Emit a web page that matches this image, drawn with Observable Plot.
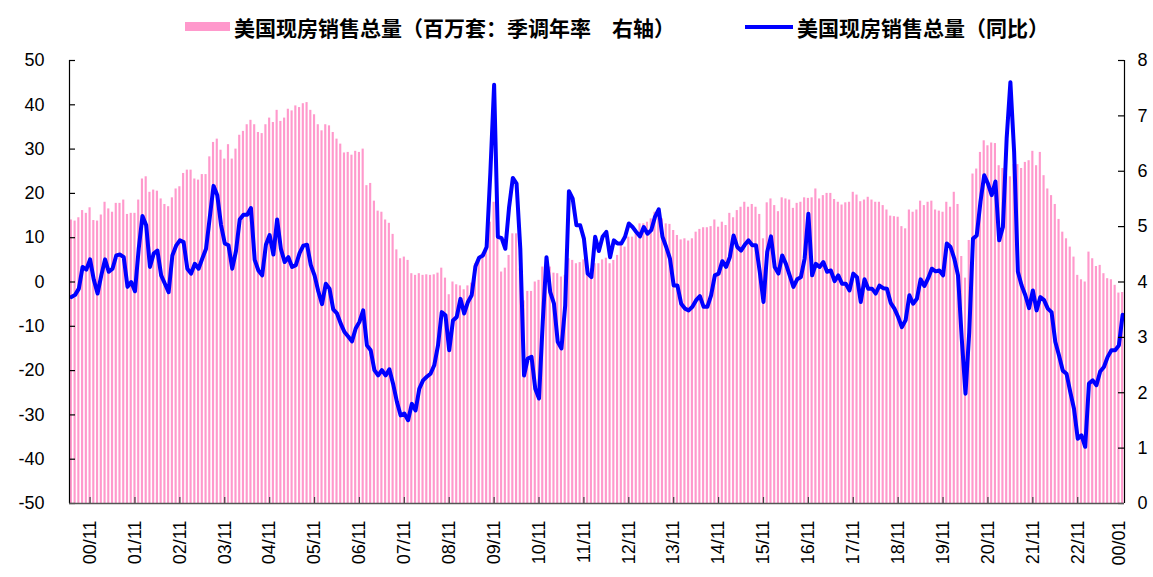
<!DOCTYPE html>
<html>
<head>
<meta charset="utf-8">
<script src="https://cdn.jsdelivr.net/npm/d3@7"></script>
<script src="https://cdn.jsdelivr.net/npm/@observablehq/plot@0.6"></script>
<style>
  body { margin: 0; background: #fff; }
  #wrap { position: relative; width: 1153px; height: 577px; overflow: hidden; background: #fff; }
  #chart { position: absolute; left: 0; top: 0; }
  .leg { position: absolute; top: 13px; line-height: 28px; white-space: pre;
         font-family: "Noto Sans CJK SC", sans-serif; font-size: 21px; font-weight: bold; color: #000; }
  .sw-bar { position: absolute; left: 185px; top: 22px; width: 45px; height: 9px; background: #ff99cc; }
  .sw-line { position: absolute; left: 745px; top: 25px; width: 48px; height: 4px; background: #0000ff; }
</style>
</head>
<body>
<div id="wrap">
  <div id="chart"></div>
  <div class="sw-bar"></div>
  <div class="leg" id="leg1" style="left:234px"></div>
  <div class="sw-line"></div>
  <div class="leg" id="leg2" style="left:797px"></div>
</div>
<script>
// Monthly data from 2000/06 to 2023/11
const seriesBarName = "美国现房销售总量（百万套：季调年率　右轴）";
const seriesLineName = "美国现房销售总量（同比）";

// Existing home sales, millions, SAAR (right axis)
const sales = [
  5.12,5.10,5.16,5.29,5.24,5.34,5.11,5.10,5.21,5.44,
  5.32,5.26,5.42,5.42,5.48,5.22,5.24,5.24,5.48,5.86,
  5.90,5.62,5.66,5.64,5.50,5.40,5.36,5.52,5.68,5.72,
  5.96,6.02,6.02,5.86,5.84,5.94,5.94,6.26,6.52,6.58,
  6.38,6.22,6.48,6.22,6.40,6.65,6.72,6.84,6.92,6.84,
  6.70,6.68,6.84,6.96,6.88,7.10,6.90,6.96,7.12,7.09,
  7.18,7.15,7.22,7.24,7.10,7.02,6.84,6.73,6.84,6.82,
  6.70,6.58,6.49,6.33,6.34,6.29,6.36,6.34,6.40,5.74,
  5.78,5.46,5.28,5.26,5.12,5.06,4.86,4.58,4.42,4.45,
  4.39,4.15,4.12,4.15,4.12,4.13,4.12,4.13,4.16,4.25,
  4.07,3.77,4.00,3.95,3.93,3.86,3.93,3.98,4.33,4.45,
  4.52,4.66,5.08,5.44,4.81,4.18,4.25,4.48,4.87,4.87,
  4.24,3.66,3.83,3.83,4.00,4.03,4.27,4.24,4.27,4.16,
  4.15,4.09,4.12,4.42,4.39,4.33,4.35,4.40,4.30,4.24,
  4.33,4.33,4.40,4.43,4.33,4.39,4.48,4.66,4.63,4.81,
  4.81,4.93,5.05,5.05,5.08,5.14,5.26,5.32,5.14,5.05,
  5.04,4.93,4.84,4.76,4.78,4.74,4.78,4.90,4.95,4.98,
  4.98,5.00,5.12,4.99,5.08,5.02,5.24,5.16,5.29,5.35,
  5.44,5.35,5.40,5.35,5.22,4.78,5.43,5.50,5.38,5.27,
  5.52,5.50,5.48,5.33,5.42,5.44,5.52,5.51,5.52,5.68,
  5.50,5.56,5.60,5.60,5.49,5.44,5.39,5.43,5.44,5.62,
  5.57,5.45,5.48,5.53,5.48,5.44,5.44,5.38,5.30,5.19,
  5.18,5.17,5.00,4.96,5.30,5.26,5.30,5.46,5.38,5.44,
  5.46,5.30,5.28,5.26,5.44,5.35,5.62,5.40,4.46,4.07,
  4.75,5.95,6.04,6.34,6.55,6.46,6.51,6.50,6.10,6.05,
  5.95,5.90,6.12,6.12,6.05,6.16,6.19,6.36,6.10,6.34,
  5.92,5.68,5.56,5.40,5.13,4.90,4.78,4.63,4.45,4.12,
  4.04,4.00,4.54,4.42,4.28,4.30,4.15,4.06,4.04,3.94,
  3.80,3.81
];

// Year-over-year change, % (left axis)
const yoy = [
  -3.4,-2.9,-1.5,3.4,2.8,5.1,0.5,-2.6,1.5,5.1,
  2.3,3.0,6.0,6.2,5.6,-1.1,0.0,-2.1,7.5,14.9,
  12.8,3.4,6.4,7.1,1.5,-0.4,-2.3,6.0,8.2,9.4,
  9.0,3.0,1.9,4.1,3.0,5.3,7.5,14.6,21.7,19.6,
  12.9,8.7,8.3,3.0,7.0,14.1,15.2,15.2,16.7,5.0,
  2.6,1.5,8.4,10.6,6.2,14.1,7.5,4.5,5.6,3.4,
  3.8,6.5,8.2,8.4,3.8,1.5,-2.1,-5.0,-0.4,-1.5,
  -6.2,-7.1,-9.4,-11.3,-12.3,-13.4,-10.5,-9.0,-6.4,-14.3,
  -15.4,-19.9,-21.1,-19.9,-21.1,-19.7,-23.0,-27.0,-30.1,-29.7,
  -31.2,-27.5,-29.0,-24.1,-22.2,-21.4,-20.7,-18.8,-14.3,-6.8,
  -7.5,-15.4,-8.7,-7.9,-3.8,-7.1,-4.5,-3.0,3.5,5.5,
  6.0,7.9,24.8,44.5,10.2,9.9,7.5,16.9,23.5,22.2,
  7.5,-21.1,-17.3,-16.9,-24.1,-26.3,-9.0,5.6,-2.3,-4.9,
  -13.5,-15.0,-5.3,20.5,18.8,12.8,12.8,9.8,1.9,1.1,
  10.2,7.0,10.2,11.3,5.6,9.4,8.7,8.7,10.2,13.2,
  12.4,11.3,10.3,12.4,10.9,11.7,14.7,16.4,10.2,7.9,
  5.3,-0.8,-0.8,-4.9,-6.0,-6.4,-5.6,-4.1,-3.2,-5.6,
  -5.6,-3.0,1.5,1.9,4.7,3.4,5.6,10.5,7.9,7.1,
  8.4,9.4,8.3,8.3,2.3,-4.5,6.8,10.3,3.4,1.9,
  6.0,4.1,1.5,-1.1,0.6,1.1,5.3,15.4,1.5,4.1,
  3.4,4.5,2.3,2.6,0.2,1.5,-0.4,-0.4,-1.9,1.9,
  1.1,-4.5,0.6,-1.5,-1.5,-2.6,-0.8,-1.4,-1.5,-4.7,
  -6.0,-7.9,-10.2,-8.6,-3.0,-4.9,-3.8,0.6,-0.9,0.8,
  3.0,2.4,2.6,1.5,8.7,7.9,5.3,1.5,-12.8,-25.2,
  -11.3,9.8,10.5,18.1,24.1,22.2,19.6,22.7,9.4,12.4,
  32.4,45.1,29.3,2.3,-0.8,-3.0,-5.9,-1.9,-6.4,-3.4,
  -4.1,-6.0,-6.8,-13.5,-16.6,-20.0,-20.7,-24.8,-28.6,-35.4,
  -34.6,-37.2,-22.9,-22.2,-23.3,-20.2,-19.2,-16.9,-15.4,-15.4,
  -14.3,-7.4
];

// X tick labels and the month index (0 = 2000/06) each sits on
const tickLabels = ["00/11","01/11","02/11","03/11","04/11","05/11","06/11","07/11","08/11","09/11","10/11","11/11",
                    "12/11","13/11","14/11","15/11","16/11","17/11","18/11","19/11","20/11","21/11","22/11","00/01"];
const tickMonths = [5,17,29,41,53,65,77,89,101,113,125,137,149,161,173,185,197,209,221,233,245,257,269,280];
const leftTicks = [-50,-40,-30,-20,-10,0,10,20,30,40,50];
const rightTicks = [0,1,2,3,4,5,6,7,8];

document.getElementById("leg1").textContent = seriesBarName;
document.getElementById("leg2").textContent = seriesLineName;

const n = sales.length;
const data = sales.map((v, i) => ({i, sales: v, yoy: yoy[i]}));
const k = 100 / 8;                       // right axis (0..8) onto left axis (-50..50)
const toLeft = v => v * k - 50;
const W = 1153, H = 577, mL = 69, mR = 29, mT = 60, mB = 74;
const tkX = 6 * n / (W - mL - mR);       // 6px tick length in x units
const tkY = 6 * 100 / (H - mT - mB);     // 6px tick length in y units
const labelAt = new Map(tickMonths.map((m, j) => [m + 0.5, tickLabels[j]]));
const fontAxis = '"Liberation Sans", Arial, sans-serif';

const chart = Plot.plot({
  width: W, height: H,
  marginLeft: mL, marginRight: mR, marginTop: mT, marginBottom: mB,
  style: {fontFamily: fontAxis, fontSize: "18px", color: "#000", background: "#fff"},
  x: {type: "linear", domain: [0, n]},
  y: {domain: [-50, 50]},
  marks: [
    Plot.rectY(data, {x1: "i", x2: d => d.i + 1, y1: -50, y2: d => toLeft(d.sales),
                      fill: "#ff99cc", insetLeft: 0.8, insetRight: 0.8}),
    Plot.line(data, {x: d => d.i + 0.5, y: "yoy", stroke: "#0000ff", strokeWidth: 4,
                     strokeLinejoin: "round", strokeLinecap: "round"}),
    Plot.ruleX([0], {y1: -50, y2: 50, stroke: "#000", strokeWidth: 1.2}),
    Plot.ruleX([n], {y1: -50, y2: 50, stroke: "#000", strokeWidth: 1.2}),
    Plot.ruleY(leftTicks, {x1: 0, x2: tkX, stroke: "#000", strokeWidth: 1.2}),
    Plot.ruleY(rightTicks.map(toLeft), {x1: n - tkX, x2: n, stroke: "#000", strokeWidth: 1.2}),
    Plot.ruleX(tickMonths.slice(0, -1).map(m => m + 0.5), {y1: -50, y2: -50 + tkY, stroke: "#444", strokeWidth: 1.2}),
    Plot.ruleY([-50], {stroke: "#555", strokeWidth: 1.6}),
    Plot.axisY(leftTicks, {anchor: "left", tickSize: 0, tickPadding: 25, label: null,
                           tickFormat: d => String(d)}),
    Plot.axisY(rightTicks.map(toLeft), {anchor: "right", tickSize: 0, tickPadding: 13, label: null,
                           tickFormat: d => String(Math.round((d + 50) / k))}),
    Plot.axisX(tickMonths.map(m => m + 0.5), {anchor: "bottom", tickSize: 0, tickPadding: 17,
                           tickRotate: -90, label: null, tickFormat: d => labelAt.get(d)})
  ]
});
document.getElementById("chart").appendChild(chart);
</script>
</body>
</html>
